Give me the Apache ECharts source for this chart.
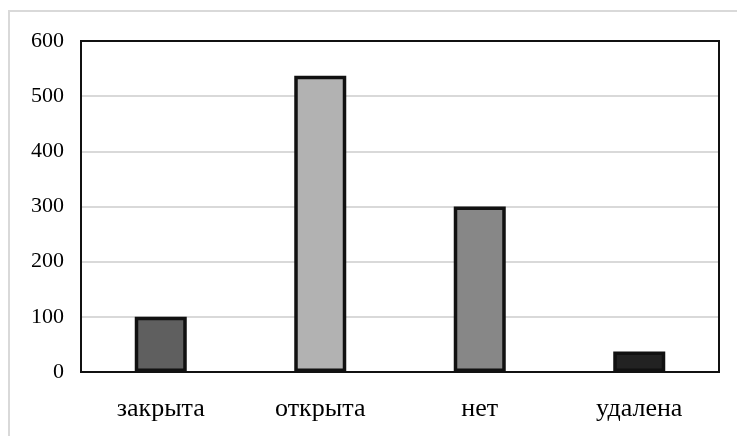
<!DOCTYPE html>
<html><head><meta charset="utf-8">
<script src="https://cdn.jsdelivr.net/npm/echarts@6/dist/echarts.min.js"></script>
<style>html,body{margin:0;padding:0;background:#fff}#c{width:737px;height:436px}</style>
</head><body><div id="c"></div>
<script>
const categories = ['закрыта', 'открыта', 'нет', 'удалена'];
const values = [100, 537, 300, 37];
const barColors = ['#5f5f5f', '#b2b2b2', '#878787', '#222222'];
const yTicks = [0, 100, 200, 300, 400, 500, 600];

const G = {left: 81, top: 41, right: 18, bottom: 64};
const W = 737, H = 436;

const chart = echarts.init(document.getElementById('c'));
chart.setOption({
  animation: false,
  backgroundColor: '#fff',
  graphic: [{
    type: 'rect', shape: {x: 9, y: 11, width: 760, height: 460},
    style: {fill: 'none', stroke: '#d9d9d9', lineWidth: 2}, silent: true, z: -1
  }, {
    type: 'rect', shape: {x: G.left, y: G.top, width: W - G.left - G.right, height: H - G.top - G.bottom},
    style: {fill: 'none', stroke: '#111', lineWidth: 2}, silent: true, z: 100
  }],
  grid: G,
  xAxis: {
    type: 'category', data: categories,
    axisLine: {show: true, lineStyle: {color: '#111', width: 2}},
    axisTick: {show: false},
    axisLabel: {color: '#000', fontFamily: 'Liberation Serif', fontSize: 26, margin: 24}
  },
  yAxis: {
    type: 'value', min: 0, max: 600, interval: 100,
    axisLine: {show: true, lineStyle: {color: '#111', width: 2}},
    axisTick: {show: false},
    splitLine: {lineStyle: {color: '#d9d9d9', width: 2}},
    axisLabel: {color: '#000', fontFamily: 'Liberation Serif', fontSize: 22, margin: 17,
      formatter: v => yTicks.includes(v) ? String(v) : ''}
  },
  series: [{
    type: 'bar', barWidth: 52,
    data: values.map((v, i) => ({value: v, itemStyle: {color: barColors[i]}})),
    itemStyle: {borderColor: '#111', borderWidth: 3.5}
  }]
});
</script></body></html>
